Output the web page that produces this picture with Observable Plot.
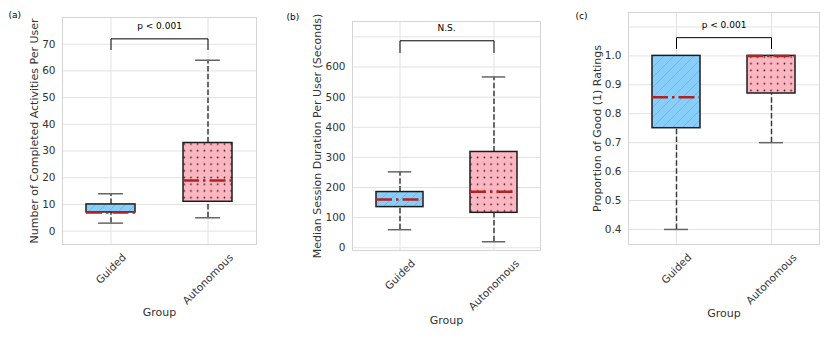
<!DOCTYPE html>
<html>
<head>
<meta charset="utf-8">
<script src="https://cdn.jsdelivr.net/npm/d3@7"></script>
<script src="https://cdn.jsdelivr.net/npm/@observablehq/plot@0.6"></script>
<style>
  body { margin: 0; background: #fff; font-family: "DejaVu Sans", sans-serif; }
  #wrap { position: relative; width: 830px; height: 340px; overflow: hidden; }
  #wrap > svg.plot-panel { position: absolute; top: 0; }
</style>
</head>
<body>
<svg width="0" height="0" style="position:absolute;left:0;top:0">
  <defs>
    <pattern id="hatchBlue" patternUnits="userSpaceOnUse" width="10" height="10">
      <rect width="10" height="10" fill="#87CEFA"></rect>
      <path d="M-1,1 L1,-1 M0,10 L10,0 M9,11 L11,9" stroke="#62a9dc" stroke-width="0.6"></path>
    </pattern>
    <pattern id="dotsPink" patternUnits="userSpaceOnUse" width="6.7" height="6.7">
      <rect width="6.7" height="6.7" fill="#FFB6C1"></rect>
      <circle cx="3.35" cy="3.35" r="0.85" fill="#222"></circle>
    </pattern>
  </defs>
</svg>
<div id="wrap"></div>
<script>
const H = 340;
const groups = ["Guided", "Autonomous"];

// (a) Number of completed activities per user
const aLow    = [3, 5];
const aQ1     = [7, 11];
const aMedian = [7, 19];
const aQ3     = [10, 33];
const aHigh   = [14, 64];
const aGrid   = [0, 10, 20, 30, 40, 50, 60, 70];
const aTicks  = [0, 10, 20, 30, 40, 50, 60, 70];
const aBracket = [68, 72];
const aSig = "p < 0.001";
const aSigY = 76.6;

// (b) Median session duration per user (seconds)
const bLow    = [60, 20];
const bQ1     = [135, 116];
const bMedian = [160, 186];
const bQ3     = [185, 318];
const bHigh   = [252, 567];
const bGrid   = [0, 100, 200, 300, 400, 500, 600, 700];
const bTicks  = [0, 100, 200, 300, 400, 500, 600];
const bBracket = [648, 687];
const bSig = "N.S.";
const bSigY = 729;

// (c) Proportion of good (1) ratings
const cLow    = [0.4, 0.7];
const cQ1     = [0.75, 0.87];
const cMedian = [0.857, 1.0];
const cQ3     = [1.0, 1.0];
const cHigh   = [1.0, 1.0];
const cGrid   = [0.4, 0.5, 0.6, 0.7, 0.8, 0.9, 1.0, 1.1];
const cTicks  = [0.4, 0.5, 0.6, 0.7, 0.8, 0.9, 1.0];
const cBracket = [1.025, 1.063];
const cSig = "p < 0.001";
const cSigY = 1.106;

const boxFills = ["url(#hatchBlue)", "url(#dotsPink)"];
const gridColor = "#e2e2e2";
const frameColor = "#d4d4d4";
const textColor = "#333333";

const ctx = document.createElement("canvas").getContext("2d");
ctx.font = "10.5px 'DejaVu Sans'";

function panel(cfg) {
  const rows = groups.map((g, i) => ({
    group: g, lo: cfg.lo[i], q1: cfg.q1[i], med: cfg.med[i], q3: cfg.q3[i], hi: cfg.hi[i]
  }));
  const bracket = [
    {group: groups[0], y: cfg.bracket[0]},
    {group: groups[0], y: cfg.bracket[1]},
    {group: groups[1], y: cfg.bracket[1]},
    {group: groups[1], y: cfg.bracket[0]}
  ];
  const frameW = cfg.width - cfg.marginLeft - cfg.marginRight;
  const bandW = frameW / 4;
  const tickLabels = groups.map(g => {
    const L = ctx.measureText(g).width;
    return Plot.text([g], {
      x: d => d, text: d => d, frameAnchor: "bottom", rotate: -45,
      textAnchor: "middle", lineAnchor: "middle",
      dy: 8 + (L + 9) * Math.SQRT1_2 / 2, fontSize: 10.5, fill: textColor
    });
  });
  const svg = Plot.plot({
    width: cfg.width,
    height: H,
    marginLeft: cfg.marginLeft,
    marginRight: cfg.marginRight,
    marginTop: cfg.marginTop,
    marginBottom: cfg.marginBottom,
    x: {type: "band", domain: groups, paddingInner: 0.5, paddingOuter: 0.25, align: 0.5, axis: null},
    y: {domain: cfg.yDomain, label: null},
    color: {domain: groups, range: boxFills},
    style: {fontFamily: "'DejaVu Sans', sans-serif", fontSize: "10px", color: textColor, background: "transparent", overflow: "visible"},
    marks: [
      Plot.ruleY(cfg.grid, {stroke: gridColor, strokeWidth: 1}),
      Plot.ruleX(groups, {x: d => d, stroke: gridColor, strokeWidth: 1}),
      Plot.frame({stroke: frameColor, strokeWidth: 1}),
      Plot.axisY(cfg.ticks, {tickSize: 0, tickPadding: 7, tickFormat: cfg.fmt, fontSize: 10.5, label: null}),
      Plot.ruleX(rows, {x: "group", y1: "lo", y2: "q1", stroke: "#3c3c3c", strokeWidth: 1.5, strokeDasharray: "5.5,2.4"}),
      Plot.ruleX(rows, {x: "group", y1: "q3", y2: "hi", stroke: "#3c3c3c", strokeWidth: 1.5, strokeDasharray: "5.5,2.4"}),
      Plot.tickY(rows, {x: "group", y: "lo", insetLeft: bandW / 4, insetRight: bandW / 4, stroke: "#666", strokeWidth: 1.5}),
      Plot.tickY(rows, {x: "group", y: "hi", insetLeft: bandW / 4, insetRight: bandW / 4, stroke: "#666", strokeWidth: 1.5}),
      Plot.barY(rows, {x: "group", y1: "q1", y2: "q3", fill: "group", stroke: "#1c1c1c", strokeWidth: 1.5}),
      Plot.tickY(rows, {x: "group", y: "med", stroke: "#B22222", strokeWidth: 2.5, strokeDasharray: "16,4,2.5,4"}),
      Plot.line(bracket, {x: "group", y: "y", stroke: "#000", strokeWidth: 1}),
      Plot.text([cfg.sig], {y: [cfg.sigY], text: d => d, fontSize: 9, fill: "#000", lineAnchor: "middle"}),
      ...tickLabels,
      Plot.text(["Group"], {text: d => d, frameAnchor: "bottom", dy: cfg.groupDy, lineAnchor: "middle", fontSize: 11, fill: textColor}),
      Plot.text([cfg.yLabel], {text: d => d, frameAnchor: "left", rotate: -90, dx: cfg.yLabelDx, textAnchor: "middle", lineAnchor: "middle", fontSize: 11, fill: textColor}),
      Plot.text([cfg.tag], {text: d => d, frameAnchor: "top-left", dx: cfg.tagDx, dy: cfg.tagDy, textAnchor: "start", lineAnchor: "middle", fontSize: 9, fill: "#000"})
    ]
  });
  svg.classList.add("plot-panel");
  svg.style.left = cfg.left + "px";
  document.getElementById("wrap").appendChild(svg);
}

panel({
  left: 0, width: 270, marginLeft: 62, marginRight: 14, marginTop: 17, marginBottom: 96,
  yDomain: [-5, 80], grid: aGrid, ticks: aTicks, fmt: d3.format("d"),
  lo: aLow, q1: aQ1, med: aMedian, q3: aQ3, hi: aHigh,
  bracket: aBracket, sig: aSig, sigY: aSigY,
  yLabel: "Number of Completed Activities Per User", yLabelDx: -28,
  groupDy: 68, tag: "(a)", tagDx: -54, tagDy: -2.5
});

panel({
  left: 280, width: 280, marginLeft: 72, marginRight: 20, marginTop: 21, marginBottom: 90,
  yDomain: [-9, 751], grid: bGrid, ticks: bTicks, fmt: d3.format("d"),
  lo: bLow, q1: bQ1, med: bMedian, q3: bQ3, hi: bHigh,
  bracket: bBracket, sig: bSig, sigY: bSigY,
  yLabel: "Median Session Duration Per User (Seconds)", yLabelDx: -35,
  groupDy: 70, tag: "(b)", tagDx: -66, tagDy: -4.5
});

panel({
  left: 560, width: 270, marginLeft: 68, marginRight: 11, marginTop: 12, marginBottom: 96,
  yDomain: [0.348, 1.15], grid: cGrid, ticks: cTicks, fmt: d3.format(".1f"),
  lo: cLow, q1: cQ1, med: cMedian, q3: cQ3, hi: cHigh,
  bracket: cBracket, sig: cSig, sigY: cSigY,
  yLabel: "Proportion of Good (1) Ratings", yLabelDx: -31,
  groupDy: 69, tag: "(c)", tagDx: -53, tagDy: 3.5
});
</script>
</body>
</html>
